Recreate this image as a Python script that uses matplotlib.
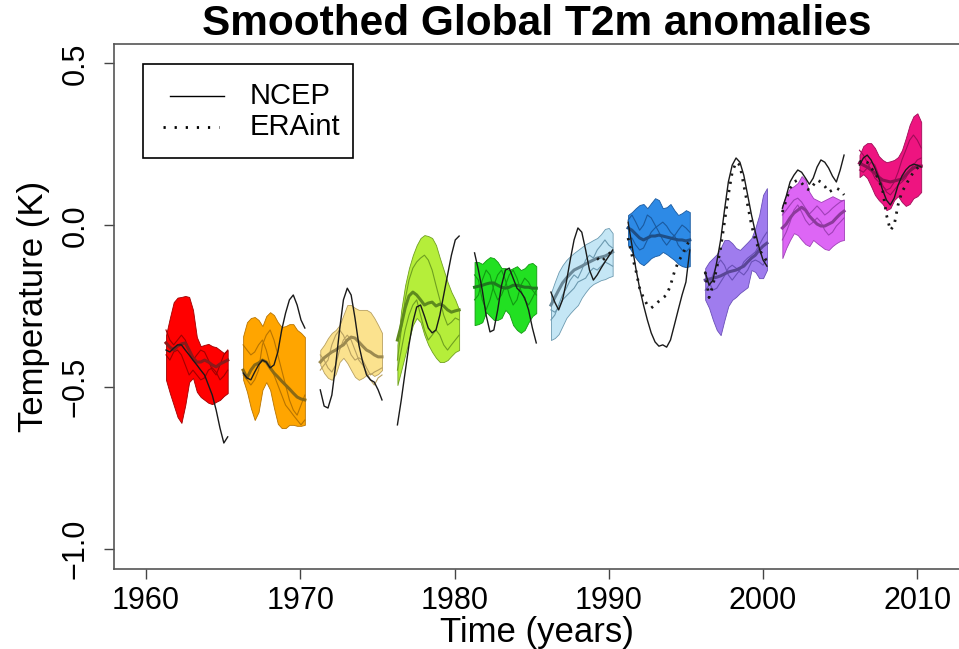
import matplotlib
matplotlib.use("Agg")
import matplotlib.pyplot as plt
import numpy as np

plt.rcParams['font.family'] = ['Liberation Sans', 'DejaVu Sans']

# start year of each 4-year hindcast window, values sampled every quarter year
starts = [1961.3, 1966.3, 1971.3, 1976.3, 1981.3, 1986.25, 1991.25, 1996.25, 2001.25, 2006.25]
step = 0.25
nan = np.nan

# 1961
red_up = [-0.339, -0.286, -0.237, -0.223, -0.221, -0.218, -0.221, -0.261, -0.345, -0.373, -0.369, -0.366, -0.373, -0.376, -0.385, -0.394, -0.385]
red_lo = [-0.477, -0.518, -0.555, -0.592, -0.610, -0.555, -0.484, -0.471, -0.514, -0.530, -0.539, -0.548, -0.552, -0.545, -0.539, -0.527, -0.518]
red_mean = [-0.363, -0.376, -0.385, -0.373, -0.366, -0.363, -0.385, -0.409, -0.422, -0.422, -0.416, -0.422, -0.431, -0.437, -0.428, -0.422, -0.416]
red_m1 = [-0.323, -0.354, -0.369, -0.354, -0.339, -0.354, -0.385, -0.416, -0.400, -0.385, -0.391, -0.416, -0.447, -0.462, -0.431, -0.400, -0.385]
red_m2 = [-0.400, -0.416, -0.391, -0.385, -0.400, -0.431, -0.462, -0.447, -0.462, -0.477, -0.471, -0.447, -0.440, -0.453, -0.477, -0.465, -0.447]
red_ncep = [-0.385, -0.391, -0.379, -0.369, -0.369, -0.385, -0.400, -0.416, -0.431, -0.447, -0.462, -0.493, -0.524, -0.570, -0.626, -0.672, -0.653]

# 1966
ora_up = [-0.342, -0.299, -0.286, -0.283, -0.292, -0.311, -0.280, -0.268, -0.277, -0.299, -0.314, -0.311, -0.305, -0.305, -0.323, -0.332, -0.345]
ora_lo = [-0.477, -0.514, -0.564, -0.601, -0.576, -0.508, -0.484, -0.508, -0.564, -0.613, -0.626, -0.626, -0.616, -0.616, -0.619, -0.619, -0.616]
ora_mean = [-0.447, -0.471, -0.447, -0.431, -0.425, -0.416, -0.422, -0.440, -0.456, -0.468, -0.481, -0.493, -0.505, -0.518, -0.530, -0.536, -0.539]
ora_m1 = [-0.369, -0.385, -0.400, -0.391, -0.369, -0.354, -0.385, -0.431, -0.462, -0.493, -0.524, -0.555, -0.570, -0.586, -0.601, -0.616, -0.601]
ora_m2 = [-0.462, -0.477, -0.493, -0.477, -0.447, -0.369, -0.339, -0.323, -0.354, -0.400, -0.447, -0.493, -0.539, -0.570, -0.586, -0.555, -0.524]
ora_ncep = [-0.456, -0.471, -0.477, -0.453, -0.431, -0.416, -0.422, -0.440, -0.431, -0.391, -0.323, -0.271, -0.230, -0.215, -0.246, -0.292, -0.317]

# 1971
yel_up = [-0.385, -0.369, -0.348, -0.332, -0.323, -0.308, -0.277, -0.246, -0.246, -0.255, -0.261, -0.261, -0.261, -0.268, -0.286, -0.308, -0.332]
yel_lo = [-0.431, -0.456, -0.471, -0.477, -0.459, -0.422, -0.409, -0.425, -0.447, -0.468, -0.477, -0.471, -0.462, -0.456, -0.465, -0.459, -0.447]
yel_mean = [-0.422, -0.409, -0.400, -0.391, -0.385, -0.376, -0.369, -0.354, -0.345, -0.348, -0.360, -0.373, -0.385, -0.391, -0.400, -0.406, -0.406]
yel_m1 = [-0.447, -0.431, -0.416, -0.369, -0.339, -0.323, -0.339, -0.369, -0.400, -0.416, -0.409, -0.416, -0.440, -0.462, -0.453, -0.447, -0.440]
yel_m2 = [-0.400, -0.416, -0.440, -0.453, -0.431, -0.385, -0.354, -0.339, -0.354, -0.385, -0.416, -0.431, -0.453, -0.477, -0.493, -0.471, -0.462]
yel_ncep = [-0.508, -0.558, -0.564, -0.524, -0.431, -0.323, -0.230, -0.194, -0.215, -0.286, -0.369, -0.422, -0.462, -0.477, -0.484, -0.508, -0.539]

# 1976
ygr_up = [-0.369, -0.261, -0.185, -0.132, -0.092, -0.061, -0.039, -0.030, -0.033, -0.039, -0.061, -0.101, -0.138, -0.175, -0.206, -0.230, -0.261]
ygr_lo = [-0.493, -0.447, -0.400, -0.354, -0.308, -0.286, -0.299, -0.339, -0.369, -0.391, -0.409, -0.422, -0.422, -0.416, -0.403, -0.391, -0.385]
ygr_mean = [-0.354, -0.308, -0.255, -0.218, -0.206, -0.215, -0.230, -0.246, -0.240, -0.237, -0.249, -0.243, -0.249, -0.261, -0.268, -0.264, -0.261]
ygr_m1 = [-0.416, -0.323, -0.230, -0.169, -0.132, -0.113, -0.101, -0.092, -0.107, -0.138, -0.185, -0.230, -0.277, -0.308, -0.299, -0.286, -0.292]
ygr_m2 = [-0.447, -0.385, -0.323, -0.277, -0.246, -0.230, -0.277, -0.323, -0.354, -0.339, -0.323, -0.339, -0.369, -0.385, -0.369, -0.354, -0.339]
ygr_ncep = [-0.616, -0.539, -0.453, -0.369, -0.299, -0.252, -0.246, -0.280, -0.317, -0.332, -0.323, -0.277, -0.215, -0.153, -0.092, -0.045, -0.033]

# 1981
grn_up = [-0.113, -0.113, -0.119, -0.107, -0.098, -0.101, -0.113, -0.132, -0.132, -0.138, -0.132, -0.126, -0.138, -0.132, -0.119, -0.116, -0.126]
grn_lo = [-0.308, -0.305, -0.299, -0.268, -0.280, -0.292, -0.292, -0.286, -0.261, -0.274, -0.308, -0.323, -0.332, -0.323, -0.299, -0.280, -0.271]
grn_mean = [-0.191, -0.188, -0.185, -0.181, -0.178, -0.178, -0.185, -0.191, -0.194, -0.191, -0.185, -0.185, -0.188, -0.191, -0.191, -0.194, -0.194]
grn_m1 = [-0.153, -0.169, -0.230, -0.261, -0.230, -0.185, -0.153, -0.138, -0.169, -0.215, -0.246, -0.230, -0.185, -0.163, -0.175, -0.200, -0.215]
grn_m2 = [-0.230, -0.215, -0.169, -0.138, -0.153, -0.200, -0.230, -0.215, -0.185, -0.153, -0.138, -0.163, -0.200, -0.230, -0.246, -0.224, -0.200]
grn_ncep = [-0.085, -0.138, -0.200, -0.277, -0.329, -0.323, -0.261, -0.185, -0.138, -0.132, -0.163, -0.194, -0.206, -0.224, -0.261, -0.317, -0.363]

# 1986
lbl_up = [-0.209, -0.175, -0.144, -0.123, -0.107, -0.095, -0.085, -0.076, -0.067, -0.058, -0.052, -0.045, -0.039, -0.027, -0.011, -0.008, -0.024]
lbl_lo = [-0.354, -0.348, -0.336, -0.311, -0.286, -0.271, -0.258, -0.246, -0.223, -0.206, -0.191, -0.181, -0.175, -0.169, -0.166, -0.160, -0.156]
lbl_mean = [-0.246, -0.223, -0.200, -0.178, -0.163, -0.150, -0.138, -0.132, -0.126, -0.119, -0.113, -0.107, -0.101, -0.098, -0.095, -0.089, -0.082]
lbl_m1 = [-0.292, -0.277, -0.246, -0.215, -0.194, -0.169, -0.153, -0.163, -0.138, -0.107, -0.092, -0.101, -0.076, -0.061, -0.045, -0.061, -0.070]
lbl_m2 = [-0.261, -0.268, -0.255, -0.230, -0.218, -0.206, -0.194, -0.175, -0.169, -0.163, -0.144, -0.132, -0.138, -0.126, -0.113, -0.119, -0.126]
lbl_ncep = [-0.206, -0.237, -0.261, -0.230, -0.175, -0.107, -0.045, -0.008, -0.021, -0.076, -0.138, -0.169, -0.153, -0.132, -0.113, -0.095, -0.076]
lbl_era = [nan, nan, nan, nan, nan, nan, nan, nan, nan, nan, nan, nan, -0.101, -0.113, -0.101, -0.089, -0.076]

# 1991
blu_up = [0.032, 0.041, 0.053, 0.063, 0.066, 0.053, 0.069, 0.084, 0.078, 0.053, 0.056, 0.066, 0.047, 0.032, 0.038, 0.047, 0.041]
blu_lo = [-0.061, -0.082, -0.101, -0.116, -0.123, -0.113, -0.101, -0.095, -0.092, -0.082, -0.089, -0.098, -0.107, -0.119, -0.126, -0.129, -0.126]
blu_mean = [-0.008, -0.015, -0.027, -0.039, -0.045, -0.039, -0.033, -0.033, -0.030, -0.033, -0.036, -0.039, -0.042, -0.045, -0.045, -0.048, -0.045]
blu_m1 = [0.016, 0.032, 0.010, -0.015, 0.001, 0.032, 0.023, 0.001, -0.021, -0.045, -0.061, -0.045, -0.030, -0.061, -0.076, -0.082, -0.070]
blu_m2 = [-0.045, -0.039, -0.061, -0.076, -0.070, -0.045, -0.021, -0.008, 0.001, 0.010, -0.002, -0.021, -0.033, -0.015, 0.001, -0.008, -0.021]
blu_ncep = [0.010, -0.061, -0.132, -0.194, -0.246, -0.292, -0.332, -0.360, -0.373, -0.369, -0.376, -0.354, -0.308, -0.261, -0.215, -0.175, -0.076]
blu_era = [-0.039, -0.092, -0.138, -0.194, -0.224, -0.246, -0.255, -0.246, -0.234, -0.224, -0.215, -0.185, -0.144, -0.113, -0.092, -0.067, -0.045]

# 1996
pur_up = [-0.132, -0.113, -0.101, -0.089, -0.070, -0.045, -0.045, -0.055, -0.070, -0.076, -0.064, -0.052, -0.039, -0.008, 0.032, 0.094, 0.115]
pur_lo = [-0.230, -0.255, -0.292, -0.323, -0.339, -0.292, -0.249, -0.230, -0.221, -0.209, -0.200, -0.191, -0.138, -0.144, -0.163, -0.163, -0.138]
pur_mean = [-0.169, -0.166, -0.163, -0.160, -0.156, -0.150, -0.144, -0.141, -0.138, -0.132, -0.126, -0.113, -0.101, -0.092, -0.076, -0.064, -0.055]
pur_m1 = [-0.200, -0.185, -0.153, -0.123, -0.107, -0.123, -0.153, -0.169, -0.153, -0.138, -0.113, -0.101, -0.092, -0.082, -0.061, -0.039, -0.021]
pur_m2 = [-0.153, -0.175, -0.200, -0.194, -0.175, -0.156, -0.132, -0.123, -0.132, -0.144, -0.153, -0.138, -0.113, -0.107, -0.113, -0.123, -0.101]
pur_ncep = [-0.144, -0.185, -0.169, -0.113, -0.045, 0.047, 0.134, 0.186, 0.208, 0.195, 0.155, 0.094, 0.032, -0.021, -0.070, -0.107, -0.126]
pur_era = [-0.144, -0.223, -0.185, -0.132, -0.070, 0.010, 0.094, 0.164, 0.195, 0.186, 0.124, 0.063, 0.001, -0.045, -0.076, -0.092, -0.113]

# 2001
mag_up = [0.063, 0.094, 0.115, 0.121, 0.131, 0.152, 0.140, 0.103, 0.084, 0.078, 0.072, 0.078, 0.084, 0.090, 0.084, 0.078, 0.078]
mag_lo = [-0.101, -0.070, -0.045, -0.024, -0.030, -0.045, -0.058, -0.064, -0.045, -0.055, -0.064, -0.073, -0.076, -0.064, -0.055, -0.048, -0.045]
mag_mean = [-0.008, 0.004, 0.023, 0.038, 0.047, 0.056, 0.047, 0.029, 0.016, 0.004, -0.002, -0.002, 0.004, 0.010, 0.023, 0.035, 0.044]
mag_m1 = [-0.045, -0.021, 0.010, 0.047, 0.063, 0.041, 0.016, 0.001, 0.010, 0.023, 0.010, -0.015, -0.030, -0.021, -0.002, 0.010, 0.023]
mag_m2 = [0.032, 0.047, 0.063, 0.078, 0.084, 0.072, 0.053, 0.035, 0.047, 0.060, 0.047, 0.032, 0.041, 0.053, 0.063, 0.072, 0.078]
mag_ncep = [0.053, 0.090, 0.134, 0.155, 0.171, 0.164, 0.146, 0.127, 0.146, 0.180, 0.202, 0.195, 0.177, 0.152, 0.134, 0.171, 0.217]
mag_era = [0.041, 0.078, 0.115, 0.134, 0.140, 0.131, 0.115, 0.109, 0.124, 0.140, 0.134, 0.121, 0.103, 0.109, 0.115, 0.109, 0.094]

# 2006
pnk_up = [0.217, 0.245, 0.254, 0.254, 0.239, 0.214, 0.202, 0.195, 0.198, 0.202, 0.211, 0.232, 0.269, 0.310, 0.337, 0.346, 0.319]
pnk_lo = [0.149, 0.158, 0.146, 0.121, 0.094, 0.078, 0.066, 0.047, 0.053, 0.078, 0.090, 0.072, 0.060, 0.066, 0.084, 0.090, 0.103]
pnk_mean = [0.192, 0.186, 0.180, 0.171, 0.161, 0.149, 0.140, 0.137, 0.134, 0.137, 0.140, 0.143, 0.155, 0.168, 0.177, 0.183, 0.183]
pnk_m1 = [0.232, 0.217, 0.195, 0.171, 0.146, 0.134, 0.121, 0.109, 0.115, 0.134, 0.164, 0.202, 0.232, 0.263, 0.279, 0.263, 0.239]
pnk_m2 = [0.171, 0.164, 0.177, 0.195, 0.186, 0.155, 0.124, 0.103, 0.094, 0.109, 0.124, 0.134, 0.146, 0.171, 0.186, 0.202, 0.208]
pnk_ncep = [0.186, 0.208, 0.217, 0.202, 0.177, 0.146, 0.109, 0.078, 0.063, 0.084, 0.124, 0.152, 0.171, 0.183, 0.189, 0.186, 0.180]
pnk_era = [0.195, 0.202, 0.195, 0.177, 0.164, 0.140, 0.109, 0.032, -0.015, 0.001, 0.063, 0.103, 0.124, 0.146, 0.164, 0.177, 0.186]

fills = ['#FF0000', '#FFA500', '#FBE28E', '#B5EE3A', '#22E022',
         '#C4E6F5', '#2D8AE6', '#9F7CEE', '#DD66F5', '#EE1480']
darks = ['#A00000', '#B87400', '#B8A060', '#6FA020', '#119911',
         '#6C9AB0', '#1A5AA0', '#6A50B8', '#A040B8', '#A00C58']
means = ['#8B1A1A', '#8B6914', '#9C8A50', '#5E8A1E', '#1E7A1E',
         '#6A8898', '#1E4E86', '#5A4696', '#8C3A9C', '#8C1050']

segs = [
    (red_up, red_lo, red_mean, red_m1, red_m2, red_ncep, None),
    (ora_up, ora_lo, ora_mean, ora_m1, ora_m2, ora_ncep, None),
    (yel_up, yel_lo, yel_mean, yel_m1, yel_m2, yel_ncep, None),
    (ygr_up, ygr_lo, ygr_mean, ygr_m1, ygr_m2, ygr_ncep, None),
    (grn_up, grn_lo, grn_mean, grn_m1, grn_m2, grn_ncep, None),
    (lbl_up, lbl_lo, lbl_mean, lbl_m1, lbl_m2, lbl_ncep, lbl_era),
    (blu_up, blu_lo, blu_mean, blu_m1, blu_m2, blu_ncep, blu_era),
    (pur_up, pur_lo, pur_mean, pur_m1, pur_m2, pur_ncep, pur_era),
    (mag_up, mag_lo, mag_mean, mag_m1, mag_m2, mag_ncep, mag_era),
    (pnk_up, pnk_lo, pnk_mean, pnk_m1, pnk_m2, pnk_ncep, pnk_era),
]

fig = plt.figure(figsize=(9.59, 6.49), dpi=100)
ax = fig.add_axes([0.1192, 0.1228, 0.8808, 0.8089])

dotted = (0, (0.8, 2.2))
for i, (up, lo, mn, m1, m2, ncep, era) in enumerate(segs):
    t = starts[i] + step * np.arange(len(up))
    ax.fill_between(t, lo, up, facecolor=fills[i], edgecolor=darks[i], linewidth=0.6, zorder=2)
    ax.plot(t, m1, color=darks[i], lw=0.8, zorder=3)
    ax.plot(t, m2, color=darks[i], lw=0.8, zorder=3)
    ax.plot(t, mn, color=means[i], lw=2.2, zorder=4)
    ax.plot(t, ncep, color='#1a1a1a', lw=1.0, zorder=5)
    if era is not None:
        ax.plot(t, era, color='#1a1a1a', lw=2.0, ls=dotted, zorder=5)

ax.set_xlim(1957.95, 2012.7)
ax.set_ylim(-1.062, 0.559)

ax.set_xticks([1960, 1970, 1980, 1990, 2000, 2010])
ax.set_yticks([-1.0, -0.5, 0.0, 0.5])
ax.set_yticklabels(['\u22121.0', '\u22120.5', '0.0', '0.5'], rotation=90, va='center')
ax.tick_params(axis='both', direction='out', length=7, width=1.0, color='#444444',
               labelsize=22)
ax.tick_params(axis='x', pad=5)
ax.tick_params(axis='y', pad=10)
for side in ['left', 'bottom', 'top']:
    ax.spines[side].set_color('#555555')
    ax.spines[side].set_linewidth(1.2)
ax.spines['right'].set_visible(False)

ax.set_xlabel('Time (years)', fontsize=25, labelpad=0)
ax.set_ylabel('Temperature (K)', fontsize=25, labelpad=8)
ax.set_title('Smoothed Global T2m anomalies', fontsize=30.5, fontweight='bold', pad=5)

# legend box drawn in axes coordinates
box = plt.Rectangle((0.034, 0.7834), 0.2486, 0.1791, transform=ax.transAxes,
                    facecolor='white', edgecolor='black', linewidth=1.2, zorder=6)
ax.add_patch(box)
ax.plot([0.066, 0.130], [0.902, 0.902], transform=ax.transAxes, color='black', lw=1.0, zorder=7)
ax.plot([0.058, 0.124], [0.843, 0.843], transform=ax.transAxes, color='black', lw=2.0,
        ls=(0, (0.8, 3.2)), zorder=7)
ax.text(0.160, 0.902, 'NCEP', transform=ax.transAxes, fontsize=21, va='center', zorder=7)
ax.text(0.160, 0.843, 'ERAint', transform=ax.transAxes, fontsize=21, va='center', zorder=7)

fig.savefig('out.png', dpi=100)
